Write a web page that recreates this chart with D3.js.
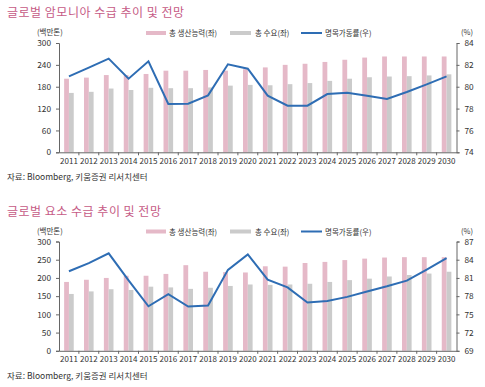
<!DOCTYPE html>
<html><head><meta charset="utf-8">
<script src="https://cdn.jsdelivr.net/npm/d3@7"></script>
<style>body{margin:0;background:#fff}svg{display:block}text{font-family:"Noto Sans CJK KR","Noto Sans",sans-serif}</style>
</head><body><svg id="c" width="485" height="387"></svg>
<script>
const years = ["2011","2012","2013","2014","2015","2016","2017","2018","2019","2020","2021","2022","2023","2024","2025","2026","2027","2028","2029","2030"];
// Chart 1: ammonia
const nh3Capacity = [202,205,212,212,215,224,224,226,224,228,233,240,243,248,254,260,263,263,263,263];
const nh3Demand   = [163,166,175,171,177,176,176,178,183,185,184,187,190,196,202,206,208,209,211,214];
const nh3Util     = [80.95,81.74,82.57,80.74,82.32,78.42,78.45,79.21,82.05,81.65,79.18,78.27,78.27,79.33,79.45,79.18,78.88,79.52,80.22,80.95];
const nh3LeftTicks = [0,60,120,180,240,300];
const nh3RightTicks = [74,76,78,80,82,84];
// Chart 2: urea
const ureaCapacity = [189,195,200,206,206,211,235,217,216,215,232,231,241,244,249,253,256,257,257,257];
const ureaDemand   = [156,163,169,167,176,174,170,173,178,182,181,182,184,189,194,198,204,208,212,217];
const ureaUtil     = [82.1,83.45,85.05,80.6,76.33,78.33,76.28,76.45,82.33,84.88,80.72,79.45,76.95,77.22,77.88,78.78,79.62,80.55,82.38,84.28];
const ureaLeftTicks = [0,50,100,150,200,250,300];
const ureaRightTicks = [69,72,75,78,81,84,87];

const legendLabels = ["총 생산능력(좌)","총 수요(좌)","명목가동률(우)"];
const source = "자료: Bloomberg, 키움증권 리서치센터";
const PINK="#e5b9c8", GRAY="#cbcbcb", BLUE="#2e6db4", TITLE="#c65b86", TXT="#333";
const NUMFONT = "'Liberation Sans',Arial,sans-serif";

const svg = d3.select("#c");

function chart(top, title, cap, dem, util, lt, rt) {
  const g = svg.append("g");
  const x0 = 59, x1 = 456.5, yTop = top + 43, yBot = top + 152.3;
  g.append("text").attr("x",7).attr("y",top+17).attr("font-size",12).attr("letter-spacing",0.5).attr("fill",TITLE).text(title);
  const x = d3.scaleBand().domain(years).range([x0,x1]).padding(0);
  const yl = d3.scaleLinear().domain([lt[0], lt[lt.length-1]]).range([yBot,yTop]);
  const yr = d3.scaleLinear().domain([rt[0], rt[rt.length-1]]).range([yBot,yTop]);
  const bw = 4.8;
  g.selectAll(".p").data(cap).enter().append("rect")
    .attr("x",(d,i)=>x(years[i])+x.bandwidth()/2-bw).attr("width",bw)
    .attr("y",d=>yl(d)).attr("height",d=>yBot-yl(d)).attr("fill",PINK);
  g.selectAll(".g").data(dem).enter().append("rect")
    .attr("x",(d,i)=>x(years[i])+x.bandwidth()/2).attr("width",bw)
    .attr("y",d=>yl(d)).attr("height",d=>yBot-yl(d)).attr("fill",GRAY);
  const line = d3.line().x((d,i)=>x(years[i])+x.bandwidth()/2).y(d=>yr(d));
  g.append("path").datum(util).attr("d",line).attr("fill","none").attr("stroke",BLUE).attr("stroke-width",2);

  const la = g.append("g").attr("transform",`translate(${x0},0)`)
    .call(d3.axisLeft(yl).tickValues(lt).tickSize(3).tickPadding(5));
  const ra = g.append("g").attr("transform",`translate(${x1},0)`)
    .call(d3.axisRight(yr).tickValues(rt).tickSize(3).tickPadding(5));
  const ba = g.append("g").attr("transform",`translate(0,${yBot})`)
    .call(d3.axisBottom(x).tickSize(0).tickPadding(6));
  [la,ra,ba].forEach(a=>{
    a.selectAll("path").attr("stroke","#666");
    a.selectAll("line").attr("stroke","#666");
    a.selectAll("text").attr("font-size",8.3).attr("fill",TXT).attr("font-family",NUMFONT);
  });
  ba.selectAll("text").attr("font-size",8);
  g.selectAll(".bt").data(years.slice(1)).enter().append("line")
    .attr("x1",d=>x(d)).attr("x2",d=>x(d)).attr("y1",yBot).attr("y2",yBot+3).attr("stroke","#666");

  g.append("text").attr("x",37).attr("y",top+35).attr("font-size",7.5).attr("fill",TXT).text("(백만톤)");
  g.append("text").attr("x",461).attr("y",top+35).attr("font-size",7.5).attr("fill",TXT).text("(%)");
  const ly = top + 33;
  g.append("rect").attr("x",146).attr("y",ly-2).attr("width",20).attr("height",4).attr("fill",PINK);
  g.append("text").attr("x",169).attr("y",ly+3).attr("font-size",7.5).attr("fill",TXT).text(legendLabels[0]);
  g.append("rect").attr("x",230).attr("y",ly-2).attr("width",21).attr("height",4).attr("fill",GRAY);
  g.append("text").attr("x",255).attr("y",ly+3).attr("font-size",7.5).attr("fill",TXT).text(legendLabels[1]);
  g.append("line").attr("x1",301).attr("x2",322).attr("y1",ly).attr("y2",ly).attr("stroke",BLUE).attr("stroke-width",2);
  g.append("text").attr("x",325).attr("y",ly+3).attr("font-size",7.5).attr("fill",TXT).text(legendLabels[2]);

  g.append("text").attr("x",7).attr("y",top+180).attr("font-size",8.5).attr("fill",TXT).text(source);
}

chart(0, "글로벌 암모니아 수급 추이 및 전망", nh3Capacity, nh3Demand, nh3Util, nh3LeftTicks, nh3RightTicks);
chart(198.5, "글로벌 요소 수급 추이 및 전망", ureaCapacity, ureaDemand, ureaUtil, ureaLeftTicks, ureaRightTicks);
</script></body></html>
